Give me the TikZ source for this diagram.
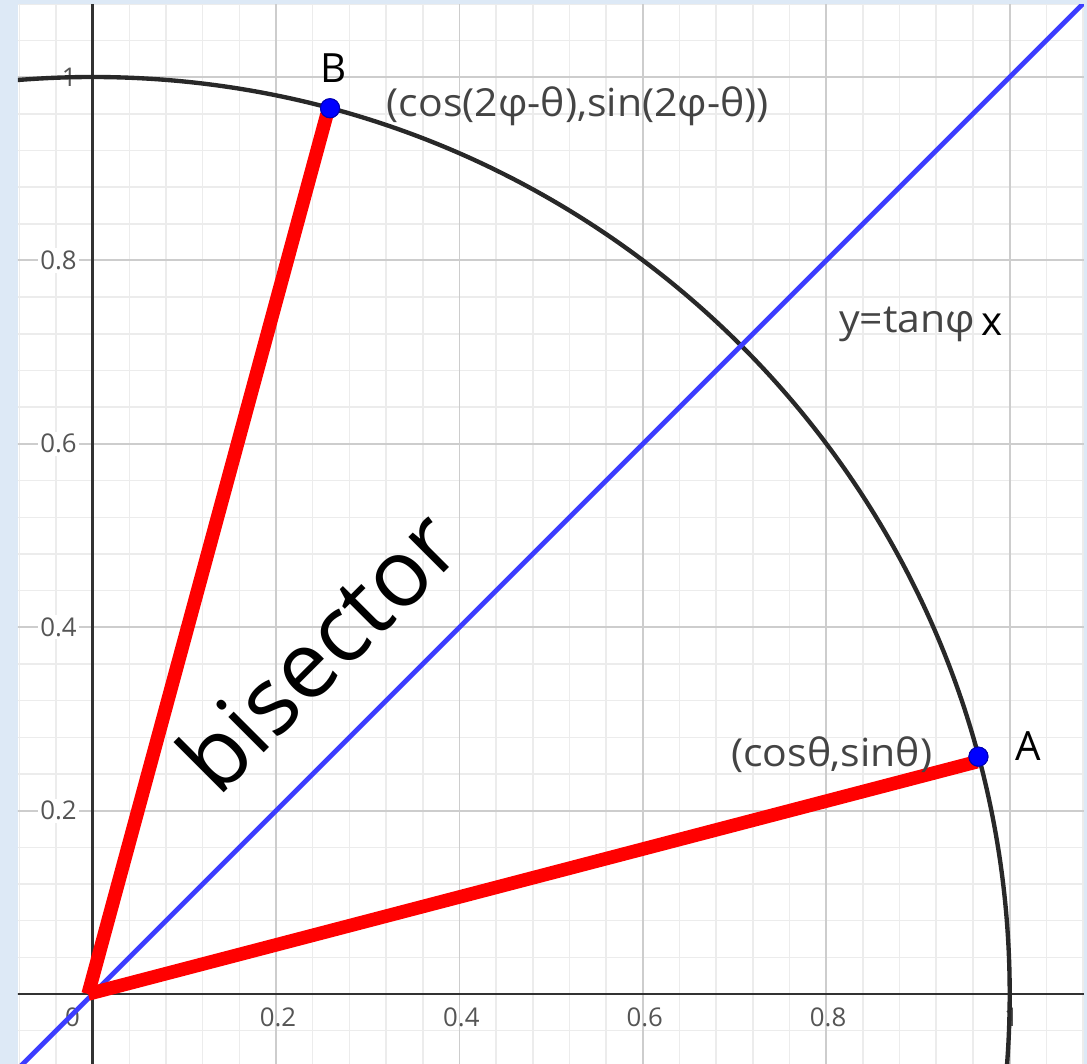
\documentclass[tikz,border=0pt]{standalone}
\usepackage{fontspec}
\setmainfont{Open Sans}
\definecolor{bordercol}{RGB}{221,233,246}
\definecolor{minorgrid}{RGB}{236,236,236}
\definecolor{majorgrid}{RGB}{205,205,205}
\definecolor{axiscol}{RGB}{50,50,50}
\definecolor{circlecol}{RGB}{40,40,40}
\definecolor{linecol}{RGB}{60,60,255}
\definecolor{redcol}{RGB}{255,0,0}
\definecolor{dotcol}{RGB}{0,0,255}
\definecolor{tickgray}{RGB}{85,85,85}
\definecolor{textgray}{RGB}{68,68,68}
\newcommand{\widetext}[1]{\scalebox{1.06}[1]{#1}}
\tikzset{
  minorline/.style={draw=minorgrid, line width=0.45pt},
  majorline/.style={draw=majorgrid, line width=0.6pt},
  axisline/.style={draw=axiscol, line width=0.9pt},
  ytick/.style={anchor=east, fill=white, inner sep=0.8pt, text=tickgray, font=\fontsize{8}{9}\selectfont},
  xtick/.style={anchor=center, inner sep=0.8pt, text=tickgray, font=\fontsize{8}{9}\selectfont},
  seg/.style={draw=redcol, line width=4.2pt},
  pt/.style={fill=dotcol, draw=dotcol!70!black, line width=0.3pt},
  graylabel/.style={text=textgray, inner sep=0pt, font=\fontsize{12}{14}\selectfont},
  blacklabel/.style={text=black, inner sep=0pt, font=\fontsize{12.5}{14}\selectfont},
}
\begin{document}
\begin{tikzpicture}[x=10cm,y=10cm]
\useasboundingbox (-0.1011,-0.0763) rectangle (1.0843,1.0840);
\fill[bordercol] (-0.1011,-0.0763) rectangle (1.0843,1.0840);
\fill[white] (-0.0815,-0.0763) rectangle (1.0810,1.0786);
\begin{scope}
\clip (-0.0815,-0.0763) rectangle (1.0810,1.0786);
% minor grid
\foreach \i in {-2,...,27} {
  \draw[minorline] (\i*0.04,-0.1) -- (\i*0.04,1.1);
  \draw[minorline] (-0.1,\i*0.04) -- (1.1,\i*0.04);
}
% major grid
\foreach \v in {0.2,0.4,0.6,0.8,1.0} {
  \draw[majorline] (\v,-0.1) -- (\v,1.1);
  \draw[majorline] (-0.1,\v) -- (1.1,\v);
}
% axes
\coordinate (O) at (0,0);
\coordinate (xl) at (-0.1,0);
\coordinate (xr) at (1.1,0);
\coordinate (yb) at (0,-0.1);
\coordinate (yt) at (0,1.1);
\draw[axisline] (xl) -- (xr);
\draw[axisline] (yb) -- (yt);
% tick labels
\foreach \v/\n in {0.2/y2,0.4/y4,0.6/y6,0.8/y8} {
  \node[ytick] (\n) at (-0.014,\v) {\v};
}
\node[ytick] (y10) at (-0.014,1.0) {1};
\foreach \v/\n in {0.2/x2,0.4/x4,0.6/x6,0.8/x8} {
  \node[xtick] (\n) at (\v+0.002,-0.025) {\v};
}
\node[xtick] (x10) at (1.002,-0.025) {1};
\node[xtick] (x0) at (-0.022,-0.025) {0};
% unit circle
\draw[circlecol, line width=1.35pt] (O) circle[radius=10cm];
% line y = x
\coordinate (L1) at (-0.12,-0.12);
\coordinate (L2) at (1.12,1.12);
\draw[linecol, line width=1.5pt] (L1) -- (L2);
% points
\coordinate (A) at ({cos(15)},{sin(15)});
\coordinate (B) at ({cos(75)},{sin(75)});
\coordinate (Os) at (-0.005,0.0);
\coordinate (Ae) at (0.9643,0.2533);
\coordinate (Be) at (0.2555,0.9596);
\draw[seg] (Os) -- (Ae);
\draw[seg] (Os) -- (Be);
\fill[pt] (A) circle[radius=0.104cm];
\fill[pt] (B) circle[radius=0.104cm];
\draw[pt] (A) circle[radius=0.104cm];
\draw[pt] (B) circle[radius=0.104cm];
% labels
\node[graylabel] (Blab) at (0.529,0.968) {\widetext{(cos(2φ-θ),sin(2φ-θ))}};
\node[graylabel] (Alab) at (0.806,0.261) {\widetext{(cosθ,sinθ)}};
\node[graylabel] (eq) at (0.888,0.730) {\widetext{y=tanφ}};
\node[blacklabel] (eqx) at (0.981,0.730) {x};
\node[blacklabel] (Aname) at (1.020,0.270) {A};
\node[blacklabel] (Bname) at (0.263,1.010) {B};
\node[text=black, inner sep=0pt, anchor=base, rotate=45, font=\fontsize{29}{32}\selectfont] (bis) at (0.272,0.348) {bisector};
\end{scope}
\end{tikzpicture}
\end{document}
